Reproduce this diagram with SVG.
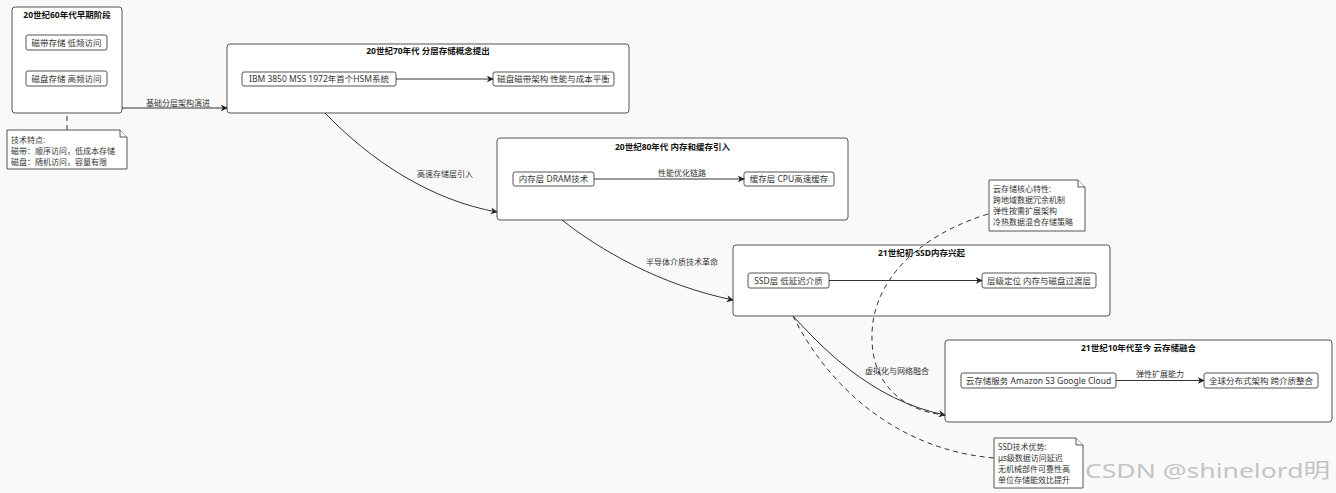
<svg xmlns="http://www.w3.org/2000/svg" width="1336" height="493" viewBox="0 0 1336 493">
<defs>
<marker id="arr" viewBox="0 0 10 10" refX="9" refY="5" markerWidth="7" markerHeight="7" orient="auto" markerUnits="userSpaceOnUse">
<path d="M0,0 L10,5 L0,10 L3,5 z" fill="#222"/>
</marker>
<style>
text{font-family:"Noto Sans","Noto Sans CJK SC",sans-serif;fill:#333;font-size:8.5px}
.grp{fill:#fff;stroke:#555;stroke-width:1}
.node{fill:#fff;stroke:#555;stroke-width:1}
.title{font-weight:bold;fill:#111;text-anchor:middle;font-size:8.5px}
.nt{text-anchor:middle}
.edge{fill:none;stroke:#333;stroke-width:1}
.dash{fill:none;stroke:#333;stroke-width:1;stroke-dasharray:5,4}
.note{fill:#fff;stroke:#555;stroke-width:1}
.lbl{text-anchor:middle;font-size:8px;fill:#333}
.ntxt{font-size:8px;fill:#333}
</style>
</defs>
<rect x="0" y="0" width="1336" height="493" fill="#f9f9f9"/>

<g id="era60">
<rect class="grp" x="12" y="7" width="110" height="106" rx="3"/>
<text class="title" x="67" y="18">20世纪60年代早期阶段</text>
<g id="tape"><rect class="node" x="26" y="35" width="81" height="15" rx="2"/><text class="nt" x="66.5" y="45.5">磁带存储 低频访问</text></g>
<g id="disk"><rect class="node" x="26" y="71" width="81" height="15" rx="2"/><text class="nt" x="66.5" y="81.5">磁盘存储 高频访问</text></g>
</g>

<g id="note60">
<path class="note" d="M7,130 H120 L127,137 V169 H7 Z"/>
<path class="note" d="M120,130 V137 H127" fill="none"/>
<text class="ntxt" x="11" y="143">技术特点:</text>
<text class="ntxt" x="11" y="154">磁带：顺序访问，低成本存储</text>
<text class="ntxt" x="11" y="165">磁盘：随机访问，容量有限</text>
</g>

<g id="era70">
<rect class="grp" x="227" y="44" width="402" height="69" rx="3"/>
<text class="title" x="428" y="54">20世纪70年代 分层存储概念提出</text>
<g id="ibm"><rect class="node" x="242" y="72" width="154" height="14" rx="2"/><text class="nt" x="319" y="82">IBM 3850 MSS 1972年首个HSM系统</text></g>
<g id="balance"><rect class="node" x="493" y="72" width="121" height="14" rx="2"/><text class="nt" x="553.5" y="82">磁盘磁带架构 性能与成本平衡</text></g>
</g>

<g id="era80">
<rect class="grp" x="497" y="138" width="351" height="82" rx="3"/>
<text class="title" x="672.5" y="150">20世纪80年代 内存和缓存引入</text>
<g id="dram"><rect class="node" x="513" y="172" width="81" height="14" rx="2"/><text class="nt" x="553.5" y="182">内存层 DRAM技术</text></g>
<g id="cache"><rect class="node" x="744" y="172" width="90" height="14" rx="2"/><text class="nt" x="789" y="182">缓存层 CPU高速缓存</text></g>
</g>

<g id="era2000">
<rect class="grp" x="733" y="245" width="377" height="71" rx="3"/>
<text class="title" x="921.5" y="256">21世纪初 SSD内存兴起</text>
<g id="ssd"><rect class="node" x="748" y="273" width="81" height="15" rx="2"/><text class="nt" x="788.5" y="283.5">SSD层 低延迟介质</text></g>
<g id="tier"><rect class="node" x="982" y="273" width="114" height="15" rx="2"/><text class="nt" x="1039" y="283.5">层级定位 内存与磁盘过渡层</text></g>
</g>

<g id="era2010">
<rect class="grp" x="945" y="340" width="387" height="82" rx="3"/>
<text class="title" x="1138.5" y="351">21世纪10年代至今 云存储融合</text>
<g id="cloud"><rect class="node" x="961" y="373" width="155" height="15" rx="2"/><text class="nt" x="1038.5" y="383.5">云存储服务 Amazon S3 Google Cloud</text></g>
<g id="global"><rect class="node" x="1204" y="373" width="114" height="15" rx="2"/><text class="nt" x="1261" y="383.5">全球分布式架构 跨介质整合</text></g>
</g>

<g id="noteCloud">
<path class="note" d="M989,180 H1078 L1085,187 V231 H989 Z"/>
<path class="note" d="M1078,180 V187 H1085" fill="none"/>
<text class="ntxt" x="993" y="192">云存储核心特性:</text>
<text class="ntxt" x="993" y="203">跨地域数据冗余机制</text>
<text class="ntxt" x="993" y="214">弹性按需扩展架构</text>
<text class="ntxt" x="993" y="225">冷热数据混合存储策略</text>
</g>

<g id="noteSSD">
<path class="note" d="M994,438 H1076 L1083,445 V488 H994 Z"/>
<path class="note" d="M1076,438 V445 H1083" fill="none"/>
<text class="ntxt" x="998" y="450">SSD技术优势:</text>
<text class="ntxt" x="998" y="461">μs级数据访问延迟</text>
<text class="ntxt" x="998" y="472">无机械部件可靠性高</text>
<text class="ntxt" x="998" y="483">单位存储能效比提升</text>
</g>

<g id="connectors">
<line class="edge" x1="122" y1="108" x2="227" y2="108" marker-end="url(#arr)"/>
<path class="edge" d="M325,113 C370,160 430,200 497,212" marker-end="url(#arr)"/>
<path class="edge" d="M562,220 C600,250 660,285 733,300" marker-end="url(#arr)"/>
<path class="edge" d="M793,316 C820,345 870,400 945,415" marker-end="url(#arr)"/>
<line class="dash" x1="67" y1="116" x2="67" y2="130"/>
<path class="dash" d="M988,214 C920,235 870,280 872,340 C873,390 910,412 945,415"/>
<path class="dash" d="M793,316 C830,390 900,450 994,458"/>
<line class="edge" x1="396" y1="79" x2="493" y2="79" marker-end="url(#arr)"/>
<line class="edge" x1="594" y1="179" x2="744" y2="179" marker-end="url(#arr)"/>
<line class="edge" x1="829" y1="280.5" x2="982" y2="280.5" marker-end="url(#arr)"/>
<line class="edge" x1="1116" y1="380.5" x2="1204" y2="380.5" marker-end="url(#arr)"/>
<text class="lbl" x="178" y="106">基础分层架构演进</text>
<text class="lbl" x="445" y="177">高速存储层引入</text>
<text class="lbl" x="682" y="265">半导体介质技术革命</text>
<text class="lbl" x="897" y="374">虚拟化与网络融合</text>
<text class="lbl" x="682" y="176">性能优化链路</text>
<text class="lbl" x="1160" y="377">弹性扩展能力</text>
</g>

<text x="1085" y="478" textLength="245" lengthAdjust="spacingAndGlyphs" style="font-family:'Noto Sans','Noto Sans CJK SC',sans-serif;font-size:20px;fill:#c4c4c4">CSDN @shinelord明</text>
</svg>
